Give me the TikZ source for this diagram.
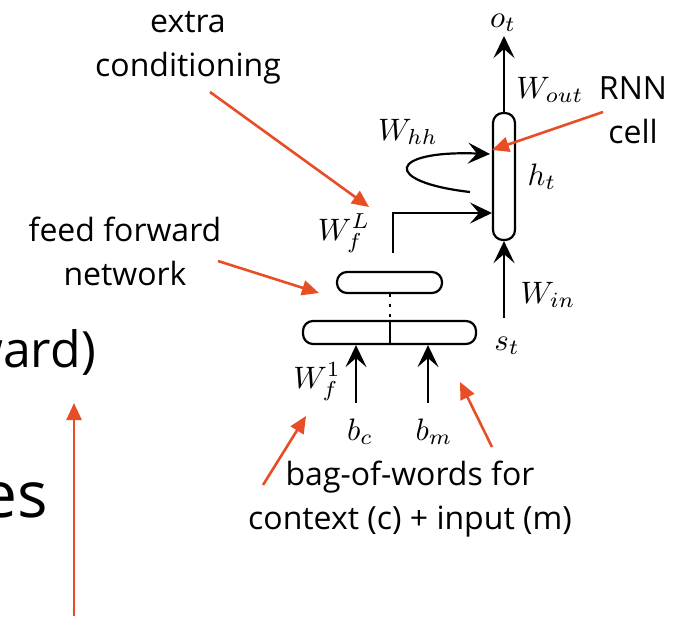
\documentclass[tikz,border=0pt]{standalone}
\usepackage{fontspec}
\setmainfont{Open Sans}
\usetikzlibrary{arrows.meta}
\definecolor{accent}{RGB}{232,78,38}
\newcommand\bigmath[1]{\scalebox{3.1}{$#1$}}
\begin{document}
\begin{tikzpicture}[x=1pt,y=-1pt,
  lbl/.style={font=\fontsize{32}{44}\selectfont, align=center, inner sep=0},
  mth/.style={inner sep=0, anchor=base},
  blk/.style={line width=2.6pt, -{Stealth[length=22pt,width=21pt,inset=9pt]}},
  redarrow/.style={accent, line width=2.6pt, -{Triangle[length=17pt,width=15pt]}},
  pill/.style={draw, line width=2.2pt, fill=white, inner sep=0, rounded corners=10pt}
]
\useasboundingbox (0,0) rectangle (674,616);
\clip (0,0) rectangle (674,616);

% boxes
\node[pill, minimum width=22pt, minimum height=127pt] (cell) at (504,176.5) {};
\node[pill, minimum width=105pt, minimum height=21pt] (ff) at (389.5,282.5) {};
\node[pill, minimum width=173pt, minimum height=23pt] (bow) at (389.5,332.5) {};
\draw[line width=2pt] (bow.north) -- (bow.south);
\draw[line width=2pt, dash pattern=on 3pt off 7pt] (ff.south) -- (bow.north);

% math labels (base anchors)
\node[mth] (ot) at (503,27) {\bigmath{o_t}};
\node[mth] (wout) at (550,98) {\bigmath{W_{out}}};
\node[mth] (whh) at (408,140) {\bigmath{W_{hh}}};
\node[mth] (ht) at (542,185) {\bigmath{h_t}};
\node[mth] (wfl) at (344,240) {\bigmath{W_f^L}};
\node[mth] (win) at (548,303) {\bigmath{W_{in}}};
\node[mth] (st) at (507,350) {\bigmath{s_t}};
\node[mth] (wf1) at (317,388) {\bigmath{W_f^1}};
\node[mth] (bc) at (360,440) {\bigmath{b_c}};
\node[mth] (bm) at (434,440) {\bigmath{b_m}};

% black connectors
\coordinate (otin) at (504,36);
\coordinate (stout) at (504,318);
\coordinate (bcout) at (356,403);
\coordinate (bmout) at (428,403);
\coordinate (ffout) at (393,253);
\coordinate (feedin) at (492,213);
\coordinate (loopstart) at (470,192);
\coordinate (loopend) at (490,154);
\draw[blk] (cell.north) -- (otin);
\draw[blk] (stout) -- (cell.south);
\draw[blk] (bcout) -- (bcout |- bow.south);
\draw[blk] (bmout) -- (bmout |- bow.south);
\draw[blk] (ffout) |- (feedin);
\draw[blk, line width=2.2pt] (loopstart) .. controls (382,182) and (387,150) .. (loopend);

% annotation texts
\node[lbl] (extra) at (188,48) {extra\\conditioning};
\node[lbl] (rnn) at (633,110) {RNN\\cell};
\node[lbl] (ffn) at (125,251) {feed forward\\network};
\node[lbl] (bag) at (410,499) {bag-of-words for\\context (c) + input (m)};
\node[font=\fontsize{50}{60}\selectfont, anchor=base east, inner sep=0] (ward) at (96,367) {ward)};
\node[font=\fontsize{64}{74}\selectfont, anchor=base east, inner sep=0] (es) at (48,517) {es};

% red arrows
\coordinate (a1s) at (210,92);   \coordinate (a1e) at (369,207);
\coordinate (a2s) at (603,112);  \coordinate (a2e) at (492,150);
\coordinate (a3s) at (218,261);  \coordinate (a3e) at (319,293);
\coordinate (a4s) at (263,485);  \coordinate (a4e) at (306,416);
\coordinate (a5s) at (492,447);  \coordinate (a5e) at (460,382);
\coordinate (a6s) at (74,616);   \coordinate (a6e) at (74,403);
\draw[redarrow] (a1s) -- (a1e);
\draw[redarrow] (a2s) -- (a2e);
\draw[redarrow] (a3s) -- (a3e);
\draw[redarrow] (a4s) -- (a4e);
\draw[redarrow] (a5s) -- (a5e);
\draw[redarrow] (a6s) -- (a6e);
\end{tikzpicture}
\end{document}
